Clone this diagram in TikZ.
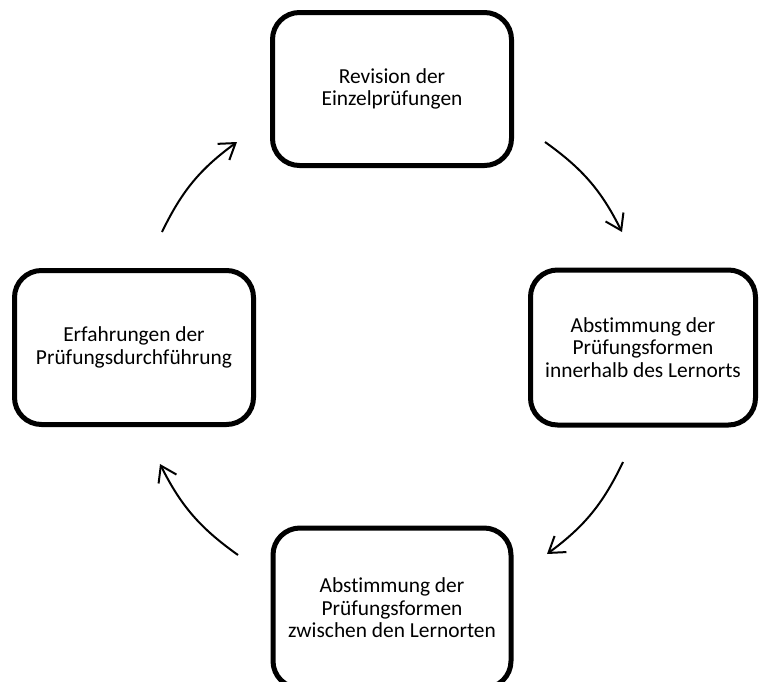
\documentclass[tikz,border=0pt]{standalone}
\usepackage{fontspec}
\setmainfont{Carlito}[Ligatures=NoCommon]
\usetikzlibrary{arrows.meta}
\begin{document}
\begin{tikzpicture}[x=1pt,y=-1pt,
  stage/.style={draw=black, line width=5pt, rounded corners=27pt, align=center,
    font=\fontsize{21.4}{22.5}\selectfont, inner sep=0pt, outer sep=0pt},
  flow/.style={line width=2pt, -{Straight Barb[length=15pt,width=20pt,line width=2pt]}, bend left=14}]
\useasboundingbox (0,0) rectangle (761,681);
\fill[white] (0,0) rectangle (761,681);
\node[stage, minimum width=239pt, minimum height=153pt] (top) at (392,89) {Revision der\\Einzelprüfungen};
\node[stage, minimum width=225pt, minimum height=155pt] (right) at (643,347.5) {Abstimmung der\\Prüfungsformen\\innerhalb des Lernorts};
\node[stage, minimum width=238pt, minimum height=160pt] (bottom) at (392,608) {Abstimmung der\\Prüfungsformen\\zwischen den Lernorten};
\node[stage, minimum width=239pt, minimum height=154pt] (left) at (134,347.5) {Erfahrungen der\\Prüfungsdurchführung};
\coordinate (a1s) at (545,142);
\coordinate (a1e) at (622,232);
\coordinate (a2s) at (623,462);
\coordinate (a2e) at (547,554);
\coordinate (a3s) at (238,555);
\coordinate (a3e) at (160,464);
\coordinate (a4s) at (162,232);
\coordinate (a4e) at (237,142);
\draw[flow] (a1s) to (a1e);
\draw[flow] (a2s) to (a2e);
\draw[flow] (a3s) to (a3e);
\draw[flow] (a4s) to (a4e);
\end{tikzpicture}
\end{document}
